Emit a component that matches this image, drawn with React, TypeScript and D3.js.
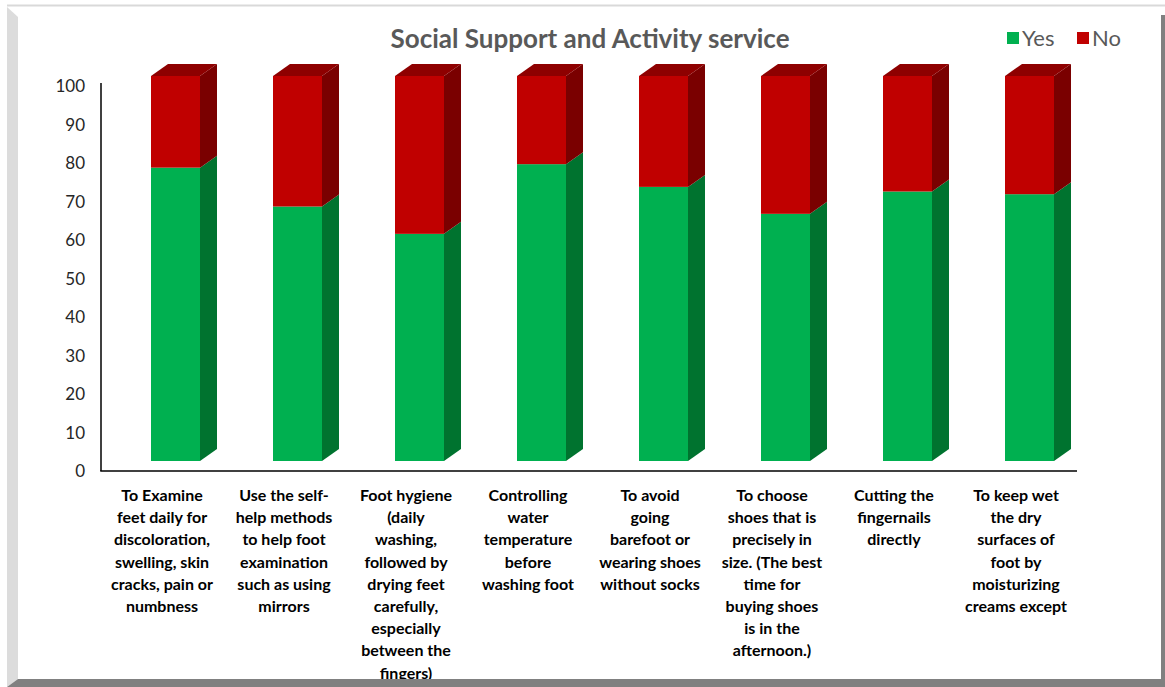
import React from 'react';
import * as d3 from 'd3';

const categories = [
  ['To Examine', 'feet daily for', 'discoloration,', 'swelling, skin', 'cracks, pain or', 'numbness'],
  ['Use the self-', 'help methods', 'to help foot', 'examination', 'such as using', 'mirrors'],
  ['Foot hygiene', '(daily', 'washing,', 'followed by', 'drying feet', 'carefully,', 'especially', 'between the', 'fingers)'],
  ['Controlling', 'water', 'temperature', 'before', 'washing foot'],
  ['To avoid', 'going', 'barefoot or', 'wearing shoes', 'without socks'],
  ['To choose', 'shoes that is', 'precisely in', 'size. (The best', 'time for', 'buying shoes', 'is in the', 'afternoon.)'],
  ['Cutting the', 'fingernails', 'directly'],
  ['To keep wet', 'the dry', 'surfaces of', 'foot by', 'moisturizing', 'creams except'],
];
const yesValues = [76.2, 66.1, 59.0, 77.1, 71.2, 64.2, 70.0, 69.3];
const noValues = [23.8, 33.9, 41.0, 22.9, 28.8, 35.8, 30.0, 30.7];
const yTicks = [0, 10, 20, 30, 40, 50, 60, 70, 80, 90, 100];

const W = 1165;
const H = 687;
const FONT = 'Lato, "Open Sans", sans-serif';

export default function App() {
  const x = d3.scaleBand<number>()
    .domain(d3.range(categories.length))
    .range([101, 1077]);
  const y = d3.scaleLinear().domain([0, 100]).range([471, 86]);

  // 3D look: front face lifted a bit off the floor, depth offset
  const lift = 10;
  const dx = 17;
  const dy = 12;
  const barW = 49;
  const barOffset = 50;

  const colors = {
    yes: { front: '#00B050', side: '#00732F' },
    no: { front: '#C00000', side: '#7A0000', top: '#8E0000' },
  };

  const side = (x1: number, yTop: number, yBot: number) =>
    `M${x1},${yTop} L${x1 + dx},${yTop - dy} L${x1 + dx},${yBot - dy} L${x1},${yBot} Z`;
  const top = (x0: number, yTop: number) =>
    `M${x0},${yTop} L${x0 + dx},${yTop - dy} L${x0 + barW + dx},${yTop - dy} L${x0 + barW},${yTop} Z`;

  return (
    <div style={{ position: 'absolute', left: 0, top: 0 }}>
      <svg width={W} height={H} style={{ display: 'block' }}>
        <rect x={0} y={0} width={W} height={H} fill="#fff" />

        {/* title */}
        <text x={590} y={48} textAnchor="middle" fontFamily={FONT} fontWeight="bold"
          fontSize={26} fill="#595959">Social Support and Activity service</text>

        {/* legend */}
        <rect x={1007} y={32} width={12} height={12} fill={colors.yes.front} />
        <text x={1022} y={46} fontFamily={FONT} fontSize={22} fill="#595959">Yes</text>
        <rect x={1077} y={32} width={12} height={12} fill={colors.no.front} />
        <text x={1092} y={46} fontFamily={FONT} fontSize={22} fill="#595959">No</text>

        {/* bars */}
        {categories.map((_, i) => {
          const x0 = (x(i) as number) + barOffset;
          const x1 = x0 + barW;
          const y0 = y(0) - lift;
          const yYes = y(yesValues[i]) - lift;
          const yNo = y(yesValues[i] + noValues[i]) - lift;
          return (
            <g key={i}>
              <rect x={x0} y={yYes} width={barW} height={y0 - yYes} fill={colors.yes.front} />
              <path d={side(x1, yYes, y0)} fill={colors.yes.side} />
              <rect x={x0} y={yNo} width={barW} height={yYes - yNo} fill={colors.no.front} />
              <path d={side(x1, yNo, yYes)} fill={colors.no.side} />
              <path d={top(x0, yNo)} fill={colors.no.top} />
            </g>
          );
        })}

        {/* axes */}
        <line x1={101} x2={101} y1={83} y2={y(0)} stroke="#000" strokeWidth={1.5} />
        <line x1={100.25} x2={1077} y1={y(0)} y2={y(0)} stroke="#000" strokeWidth={1.5} />
        {yTicks.map(t => (
          <text key={t} x={85} y={y(t) + 6} textAnchor="end" fontFamily={FONT}
            fontSize={17} fill="#262626">{t}</text>
        ))}

        {/* category labels */}
        {categories.map((lines, i) => (
          <text key={i} textAnchor="middle" fontFamily={FONT} fontWeight="bold"
            fontSize={16} fill="#000">
            {lines.map((ln, j) => (
              <tspan key={j} x={(x(i) as number) + x.bandwidth() / 2} y={501 + j * 22.2}>{ln}</tspan>
            ))}
          </text>
        ))}

        {/* frame */}
        <line x1={7} x2={W} y1={5.5} y2={5.5} stroke="#d9d9d9" strokeWidth={2} />
        <path d={`M7,7 L18,17 L18,679 L7,687 Z`} fill="#dcdcdc" />
        <path d={`M7,687 L18,679 L${W},679 L${W},687 Z`} fill="#808080" />
        <rect x={1161} y={15} width={4} height={664} fill="#808080" />
      </svg>
    </div>
  );
}
